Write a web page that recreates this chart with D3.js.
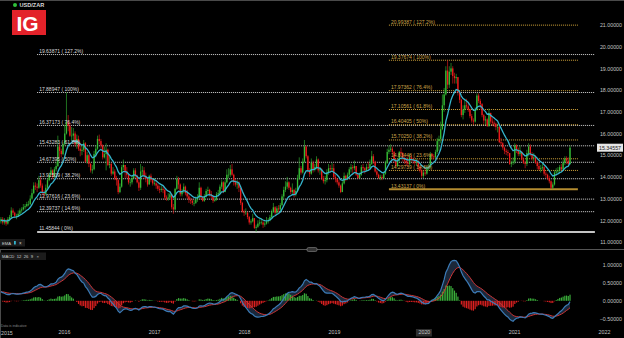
<!DOCTYPE html>
<html>
<head>
<meta charset="utf-8">
<script src="https://cdn.jsdelivr.net/npm/d3@7"></script>
<style>
  body { margin: 0; background: #000; }
  svg { display: block; }
  text { font-family: "Liberation Sans", Arial, sans-serif; }
</style>
</head>
<body>
<svg id="chart" width="624" height="338"></svg>
<script>
// USD/ZAR weekly candles, first week starts Mon 20 Apr 2015
var firstWeek = new Date(2015, 3, 20);
var firstOpen = 11.95;

// weekly closes, one line per year
var closes = [
  12.05,11.90,12.00,11.85,12.05,12.15,12.45,12.35,12.20,12.20,12.30,12.45,12.50,12.60,12.65,12.75,12.75,13.00,13.25,13.60,13.55,13.50,13.85,13.60,13.25,13.20,13.50,13.85,14.10,14.30,14.00,14.35,14.50,15.40,15.20,15.05,
  15.50,16.00,16.55,16.35,15.90,15.90,16.00,15.50,15.75,15.30,15.20,15.25,15.55,14.70,15.00,14.60,14.30,14.35,15.05,15.30,15.75,15.65,15.45,14.90,15.05,15.25,14.55,14.60,14.15,14.25,13.95,13.85,13.30,13.55,14.45,14.55,14.25,14.10,13.75,13.75,13.95,14.30,14.05,13.75,13.50,14.25,14.30,14.05,13.90,13.65,14.05,13.85,13.70,
  13.70,13.60,13.45,13.40,13.45,13.40,13.05,13.00,13.05,13.20,12.60,12.50,13.45,13.90,13.65,13.20,13.35,13.55,13.25,13.10,12.95,12.90,12.80,12.80,12.95,13.05,13.50,13.05,12.90,13.10,13.35,13.40,13.20,13.10,12.90,12.95,13.20,13.25,13.55,13.75,13.30,13.75,14.10,14.10,14.35,14.10,13.75,13.65,13.70,13.50,12.80,12.40,
  12.35,12.35,12.15,11.90,11.95,12.10,11.65,11.70,11.85,11.90,11.90,11.80,11.85,11.95,12.00,12.15,12.40,12.60,12.35,12.55,12.50,12.70,13.10,13.40,13.55,13.75,13.50,13.30,13.40,13.20,13.35,13.95,14.40,14.20,14.70,15.40,14.95,14.30,14.15,14.65,14.35,14.45,14.80,14.30,14.35,13.95,13.80,13.85,14.20,14.40,14.35,14.40,
  14.00,13.90,13.75,13.60,13.30,13.70,14.05,13.90,14.10,14.35,14.45,14.40,14.50,14.10,13.95,14.10,14.45,14.40,14.30,14.45,14.40,14.60,14.95,14.70,14.25,14.10,13.95,14.00,13.95,14.15,14.65,15.15,15.25,15.30,15.15,14.80,14.50,14.75,15.15,15.10,14.85,14.75,14.65,14.60,14.90,14.80,14.75,14.65,14.70,14.45,14.30,14.05,
  14.20,14.15,14.45,14.45,15.05,14.95,14.90,15.15,15.65,15.75,16.20,17.30,17.80,18.90,18.25,18.85,19.00,18.65,18.55,18.60,17.90,17.55,16.85,17.10,17.30,17.25,17.10,16.80,16.60,16.55,17.10,17.75,17.50,17.35,16.85,16.60,16.65,16.35,16.95,16.55,16.50,16.45,16.30,16.30,15.60,15.55,15.35,15.20,15.15,15.10,14.60,14.65,
  14.70,15.45,15.25,15.05,15.15,14.80,14.65,14.60,15.10,15.40,15.05,14.85,14.90,14.65,14.50,14.35,14.40,14.45,14.15,14.10,13.95,13.80,13.50,13.65,14.20,14.25,14.30,14.45,14.35,14.65,14.85,14.75,14.60,15.34557
];
var highs = [
  12.15,12.15,12.10,12.05,12.15,12.25,12.60,12.55,12.40,12.30,12.45,12.55,12.60,12.75,12.75,12.85,12.90,13.15,13.45,13.75,13.75,13.70,14.05,14.00,13.70,13.40,13.65,13.95,14.20,14.45,14.35,14.45,14.70,15.90,15.55,15.30,
  15.60,16.40,17.89,16.85,16.50,16.30,16.25,16.10,15.95,15.90,15.55,15.45,15.70,15.60,15.15,15.05,14.65,14.55,15.20,15.45,15.90,15.95,15.75,15.50,15.40,15.55,15.30,14.95,14.65,14.45,14.35,14.05,13.90,13.70,14.55,14.80,14.55,14.45,14.15,13.90,14.05,14.40,14.40,14.10,13.85,14.60,14.50,14.45,14.20,13.95,14.10,14.15,13.95,
  13.95,13.85,13.70,13.60,13.60,13.55,13.45,13.15,13.25,13.35,13.15,12.75,13.50,14.05,14.00,13.70,13.45,13.70,13.60,13.40,13.20,13.05,13.00,12.95,13.10,13.20,13.75,13.55,13.10,13.20,13.45,13.55,13.45,13.35,13.15,13.05,13.30,13.40,13.65,13.85,13.80,13.85,14.35,14.40,14.55,14.60,14.15,13.90,13.85,13.80,13.45,12.85,
  12.50,12.55,12.40,12.20,12.05,12.30,12.10,11.80,12.00,12.05,12.10,12.00,11.95,12.15,12.10,12.25,12.50,12.80,12.65,12.65,12.70,12.80,13.20,13.55,13.80,14.00,13.80,13.55,13.70,13.45,13.50,14.10,14.90,14.50,14.85,15.70,15.45,15.00,14.40,14.85,14.75,14.60,14.95,14.85,14.45,14.40,14.05,14.05,14.35,14.60,14.55,14.65,
  14.60,14.10,13.95,13.85,13.65,13.80,14.20,14.10,14.20,14.45,14.60,14.55,14.75,14.50,14.15,14.20,14.55,14.60,14.45,14.60,14.70,14.80,15.20,15.05,14.75,14.35,14.15,14.10,14.10,14.25,14.75,15.30,15.45,15.50,15.40,15.20,14.85,14.85,15.20,15.35,15.15,14.95,14.90,14.95,15.05,15.00,14.90,14.85,14.85,14.80,14.55,14.35,
  14.30,14.40,14.50,14.60,15.15,15.10,15.05,15.25,15.80,15.90,16.55,17.80,18.10,19.10,19.37,19.10,19.25,19.10,18.80,18.75,18.60,17.95,17.60,17.30,17.60,17.60,17.40,17.15,16.90,16.70,17.20,17.85,17.85,17.60,17.40,16.90,16.80,16.70,17.15,16.95,16.70,16.60,16.50,16.45,16.35,15.80,15.60,15.40,15.30,15.25,15.10,14.75,
  14.90,15.55,15.50,15.35,15.45,15.20,14.90,14.75,15.25,15.55,15.50,15.15,15.10,15.00,14.75,14.65,14.55,14.60,14.50,14.25,14.15,14.05,13.85,13.75,14.30,14.40,14.45,14.55,14.60,14.80,14.95,14.95,14.90,15.45
];
var lows = [
  11.85,11.80,11.80,11.75,11.80,11.95,12.10,12.25,12.10,12.05,12.15,12.25,12.35,12.45,12.50,12.60,12.65,12.70,12.95,13.20,13.40,13.30,13.45,13.50,13.15,13.05,13.15,13.45,13.80,14.05,13.90,13.95,14.25,14.45,14.90,14.90,
  15.00,15.45,15.95,16.10,15.85,15.65,15.70,15.40,15.30,15.20,14.95,15.00,15.15,14.65,14.60,14.45,14.20,14.15,14.30,14.90,15.25,15.50,15.30,14.80,14.85,14.30,14.50,14.40,14.05,14.10,13.85,13.60,13.20,13.25,13.50,14.30,13.95,13.95,13.65,13.55,13.65,13.90,13.95,13.70,13.35,13.40,14.05,13.90,13.75,13.55,13.65,13.75,13.60,
  13.60,13.45,13.35,13.25,13.30,13.25,12.95,12.90,12.90,12.95,12.50,12.30,12.45,13.40,13.45,13.10,13.10,13.25,13.15,13.00,12.80,12.75,12.70,12.65,12.75,12.85,13.00,12.95,12.85,12.85,13.05,13.20,13.10,13.00,12.80,12.85,12.90,13.10,13.20,13.45,13.25,13.30,13.70,13.95,14.00,14.05,13.60,13.55,13.45,13.30,12.70,12.35,
  12.20,12.25,12.05,11.80,11.80,11.90,11.60,11.46,11.65,11.75,11.80,11.65,11.70,11.80,11.85,11.95,12.10,12.35,12.25,12.25,12.35,12.40,12.65,13.00,13.30,13.45,13.40,13.20,13.20,13.05,13.10,13.30,13.85,14.10,14.15,14.65,14.85,14.20,14.00,14.10,14.20,14.25,14.35,14.20,14.10,13.85,13.70,13.65,13.75,14.10,14.20,14.25,
  13.90,13.75,13.65,13.50,13.25,13.30,13.65,13.80,13.85,14.05,14.20,14.15,14.30,14.05,13.90,13.95,14.05,14.25,14.15,14.25,14.30,14.35,14.55,14.60,14.20,14.00,13.90,13.85,13.85,13.90,14.10,14.60,15.05,15.15,15.05,14.65,14.45,14.45,14.70,14.95,14.70,14.60,14.50,14.45,14.55,14.70,14.60,14.55,14.50,14.30,14.20,13.95,
  13.95,14.05,14.10,14.30,14.40,14.80,14.80,14.85,15.05,15.20,15.55,16.15,17.00,17.75,18.05,18.10,18.70,18.30,18.30,18.30,17.75,17.40,16.75,16.65,16.95,17.15,17.00,16.70,16.50,16.40,16.50,17.05,17.40,17.15,16.75,16.45,16.40,16.30,16.30,16.45,16.35,16.30,16.15,16.05,15.55,15.40,15.25,15.05,15.00,14.95,14.55,14.45,
  14.55,14.60,15.10,14.95,14.95,14.75,14.60,14.40,14.50,14.95,14.95,14.75,14.70,14.60,14.35,14.30,14.20,14.30,14.05,13.95,13.85,13.70,13.45,13.43,13.60,14.05,14.15,14.15,14.25,14.30,14.55,14.60,14.50,14.55
];

// indicator settings and starting values read at the left edge
var emaPeriod = 10, emaStart = 12.0;
var macdFast = 12, macdSlow = 26, macdSignal = 9;
var macdStart = { fast: 12.02, slow: 11.75, signal: 0.25 };

// fibonacci retracements (2016 swing in white, 2020 swing in gold)
var fibPct = ["127.2%", "100%", "76.4%", "61.8%", "50%", "38.2%", "23.6%", "14.6%", "0%"];
var fibWhite = [19.63871, 17.88947, 16.37173, 15.43283, 14.67395, 13.91509, 12.97616, 12.39737, 11.45844];
var fibGold = [20.99387, 19.37674, 17.97362, 17.10561, 16.40405, 15.70250, 14.83448, 14.29739, 13.43137];
var fibWhiteSpan = [new Date(2015, 8, 14), new Date(2021, 10, 25)];
var fibGoldSpan = [new Date(2019, 7, 12), new Date(2021, 8, 17)];

var priceTicks = [11, 12, 13, 14, 15, 16, 17, 18, 19, 20, 21];
var macdTicks = [-0.5, 0, 0.5, 1];
var yearTicks = [2016, 2017, 2018, 2019, 2020, 2021, 2022];
var firstYear = "2015";

var green = "#35bd35", red = "#f01c1c";

var svg = d3.select("#chart");
svg.append("rect").attr("width", 624).attr("height", 338).attr("fill", "#000");

var x = d3.scaleTime().domain([new Date(2016, 0, 1), new Date(2022, 0, 1)]).range([64, 604]);
var y = d3.scaleLinear().domain([11, 21]).range([242, 25]);
var yM = d3.scaleLinear().domain([-0.5, 1]).range([319, 264.4]);

var weeks = closes.map(function(c, i) { return d3.timeDay.offset(firstWeek, 7 * i); });
var opens = closes.map(function(c, i) { return i ? closes[i - 1] : firstOpen; });

function ema(values, period, start) {
  var k = 2 / (period + 1), prev = start;
  return values.map(function(v) { prev = v * k + prev * (1 - k); return prev; });
}
var emaLine = ema(closes, emaPeriod, emaStart);
var fast = ema(closes, macdFast, macdStart.fast);
var slow = ema(closes, macdSlow, macdStart.slow);
var macd = fast.map(function(f, i) { return f - slow[i]; });
var signal = ema(macd, macdSignal, macdStart.signal);
var hist = macd.map(function(m, i) { return m - signal[i]; });

// frame
svg.append("line").attr("x1", 0).attr("x2", 624).attr("y1", 0.5).attr("y2", 0.5).attr("stroke", "#4a4a4a");
svg.append("line").attr("x1", 0.5).attr("x2", 0.5).attr("y1", 250).attr("y2", 338).attr("stroke", "#4a4a4a");
svg.append("line").attr("x1", 0).attr("x2", 624).attr("y1", 249.5).attr("y2", 249.5).attr("stroke", "#555");
svg.append("rect").attr("x", 307).attr("y", 247.5).attr("width", 10).attr("height", 4).attr("rx", 1.5)
  .attr("fill", "#333").attr("stroke", "#888").attr("stroke-width", 0.6);

// fib levels
function drawFib(levels, span, color, solidColor) {
  levels.forEach(function(v, i) {
    var last = i === levels.length - 1;
    svg.append("line")
      .attr("x1", x(span[0])).attr("x2", x(span[1]))
      .attr("y1", y(v)).attr("y2", y(v))
      .attr("stroke", last ? solidColor : color)
      .attr("stroke-width", last ? 2 : 1)
      .attr("stroke-dasharray", last ? null : "1,1");
  });
}
drawFib(fibWhite, fibWhiteSpan, "#d8d8d8", "#c4c4c4");
drawFib(fibGold, fibGoldSpan, "#d2a53a", "#b48c30");

// candles
var candles = svg.append("g");
closes.forEach(function(c, i) {
  var cx = x(weeks[i]), o = opens[i];
  var col = c >= o ? green : red;
  candles.append("line")
    .attr("x1", cx).attr("x2", cx)
    .attr("y1", y(highs[i])).attr("y2", y(lows[i]))
    .attr("stroke", col).attr("stroke-width", 0.6);
  var top = y(Math.max(o, c)), bot = y(Math.min(o, c));
  candles.append("rect")
    .attr("x", cx - 0.65).attr("width", 1.3)
    .attr("y", top).attr("height", Math.max(0.6, bot - top))
    .attr("fill", col);
});

// EMA
svg.append("path")
  .datum(emaLine)
  .attr("fill", "none")
  .attr("stroke", "#35b4cc")
  .attr("stroke-width", 1.3)
  .attr("d", d3.line()
    .x(function(d, i) { return x(weeks[i]); })
    .y(function(d) { return y(d); }));

// fib labels
function fibLabels(levels, span, color) {
  levels.forEach(function(v, i) {
    svg.append("text")
      .attr("x", x(span[0]) + 2).attr("y", y(v) - 1.6)
      .attr("font-size", 5).attr("fill", color)
      .text(v.toFixed(5) + " ( " + fibPct[i] + ")");
  });
}
fibLabels(fibWhite, fibWhiteSpan, "#dcdcdc");
fibLabels(fibGold, fibGoldSpan, "#cfa64a");

// MACD panel
svg.append("path")
  .datum(macd)
  .attr("fill", "#1b283a")
  .attr("d", d3.area()
    .x(function(d, i) { return x(weeks[i]); })
    .y0(function(d, i) { return yM(signal[i]); })
    .y1(function(d) { return yM(d); }));

svg.append("g").selectAll("rect")
  .data(hist)
  .join("rect")
  .attr("x", function(d, i) { return x(weeks[i]) - 0.6; })
  .attr("width", 1.2)
  .attr("y", function(d) { return Math.min(yM(0), yM(d)); })
  .attr("height", function(d) { return Math.abs(yM(d) - yM(0)); })
  .attr("fill", function(d) { return d >= 0 ? "#3aae3a" : "#dc2020"; });

svg.append("path")
  .datum(signal)
  .attr("fill", "none").attr("stroke", "#cc3434").attr("stroke-width", 1)
  .attr("d", d3.line().x(function(d, i) { return x(weeks[i]); }).y(function(d) { return yM(d); }));
svg.append("path")
  .datum(macd)
  .attr("fill", "none").attr("stroke", "#3c7cb8").attr("stroke-width", 1.2)
  .attr("d", d3.line().x(function(d, i) { return x(weeks[i]); }).y(function(d) { return yM(d); }));

// axes
function styleAxis(g) {
  g.select(".domain").remove();
  g.selectAll("text").attr("fill", "#c4c4c4").attr("font-size", 5.3)
    .attr("font-family", "Liberation Sans, Arial, sans-serif");
}
svg.append("g").attr("transform", "translate(622,0)")
  .call(d3.axisLeft(y).tickValues(priceTicks).tickFormat(d3.format(".5f")).tickSize(0).tickPadding(0))
  .call(styleAxis);
svg.append("g").attr("transform", "translate(622,0)")
  .call(d3.axisLeft(yM).tickValues(macdTicks).tickFormat(d3.format(".5f")).tickSize(0).tickPadding(0))
  .call(styleAxis);

// x axis
var hl = yearTicks.indexOf(2020);
svg.append("rect").attr("x", x(new Date(2020, 0, 1)) - 8).attr("y", 329).attr("width", 16).attr("height", 7.5)
  .attr("fill", "#2e2e2e");
svg.append("g").attr("transform", "translate(0,330)")
  .call(d3.axisBottom(x).tickValues(yearTicks.map(function(yr) { return new Date(yr, 0, 1); }))
    .tickFormat(d3.timeFormat("%Y")).tickSize(0).tickPadding(0))
  .call(styleAxis)
  .selectAll("text").attr("dy", "0.71em");
svg.append("text").attr("x", 1).attr("y", 335).attr("font-size", 5.3).attr("fill", "#c4c4c4").text(firstYear);

// price tag
var lastClose = closes[closes.length - 1];
svg.append("rect").attr("x", 597).attr("y", y(lastClose) - 4).attr("width", 26).attr("height", 8).attr("fill", "#e6e6e6");
svg.append("text").attr("x", 610).attr("y", y(lastClose) + 1.9).attr("text-anchor", "middle")
  .attr("font-size", 5.3).attr("fill", "#222").text(lastClose.toFixed(5));

// header and logo
svg.append("circle").attr("cx", 15).attr("cy", 5).attr("r", 2).attr("fill", "#2fbf3a");
svg.append("text").attr("x", 19.5).attr("y", 7).attr("font-size", 5.6).attr("font-weight", "bold")
  .attr("fill", "#d8d8d8").text("USD/ZAR");
svg.append("rect").attr("x", 12).attr("y", 10).attr("width", 34).attr("height", 25).attr("fill", "#e3222a");
svg.append("text").attr("x", 27.5).attr("y", 30.5).attr("text-anchor", "middle").attr("font-size", 21)
  .attr("font-weight", "bold").attr("fill", "#fff").text("IG");

// indicator tags
svg.append("rect").attr("x", 0).attr("y", 239).attr("width", 25).attr("height", 7.5).attr("fill", "#1c1c1c");
svg.append("text").attr("x", 2).attr("y", 244.6).attr("font-size", 4.2).attr("fill", "#cfcfcf").text("EMA");
svg.append("rect").attr("x", 14).attr("y", 241).attr("width", 1.8).attr("height", 3.5).attr("fill", "#35b4cc");
svg.append("text").attr("x", 19).attr("y", 244.6).attr("font-size", 4.5).attr("fill", "#cfcfcf").text("×");
svg.append("rect").attr("x", 0).attr("y", 252.5).attr("width", 46).attr("height", 7.5).attr("fill", "#1c1c1c");
svg.append("text").attr("x", 2).attr("y", 258).attr("font-size", 4.2).attr("fill", "#cfcfcf")
  .attr("xml:space", "preserve").text("MACD  12  26  9   ×");

svg.append("text").attr("x", 1).attr("y", 327.3).attr("font-size", 3.4).attr("fill", "#8a8a8a").text("Data is indicative");
</script>
</body>
</html>
